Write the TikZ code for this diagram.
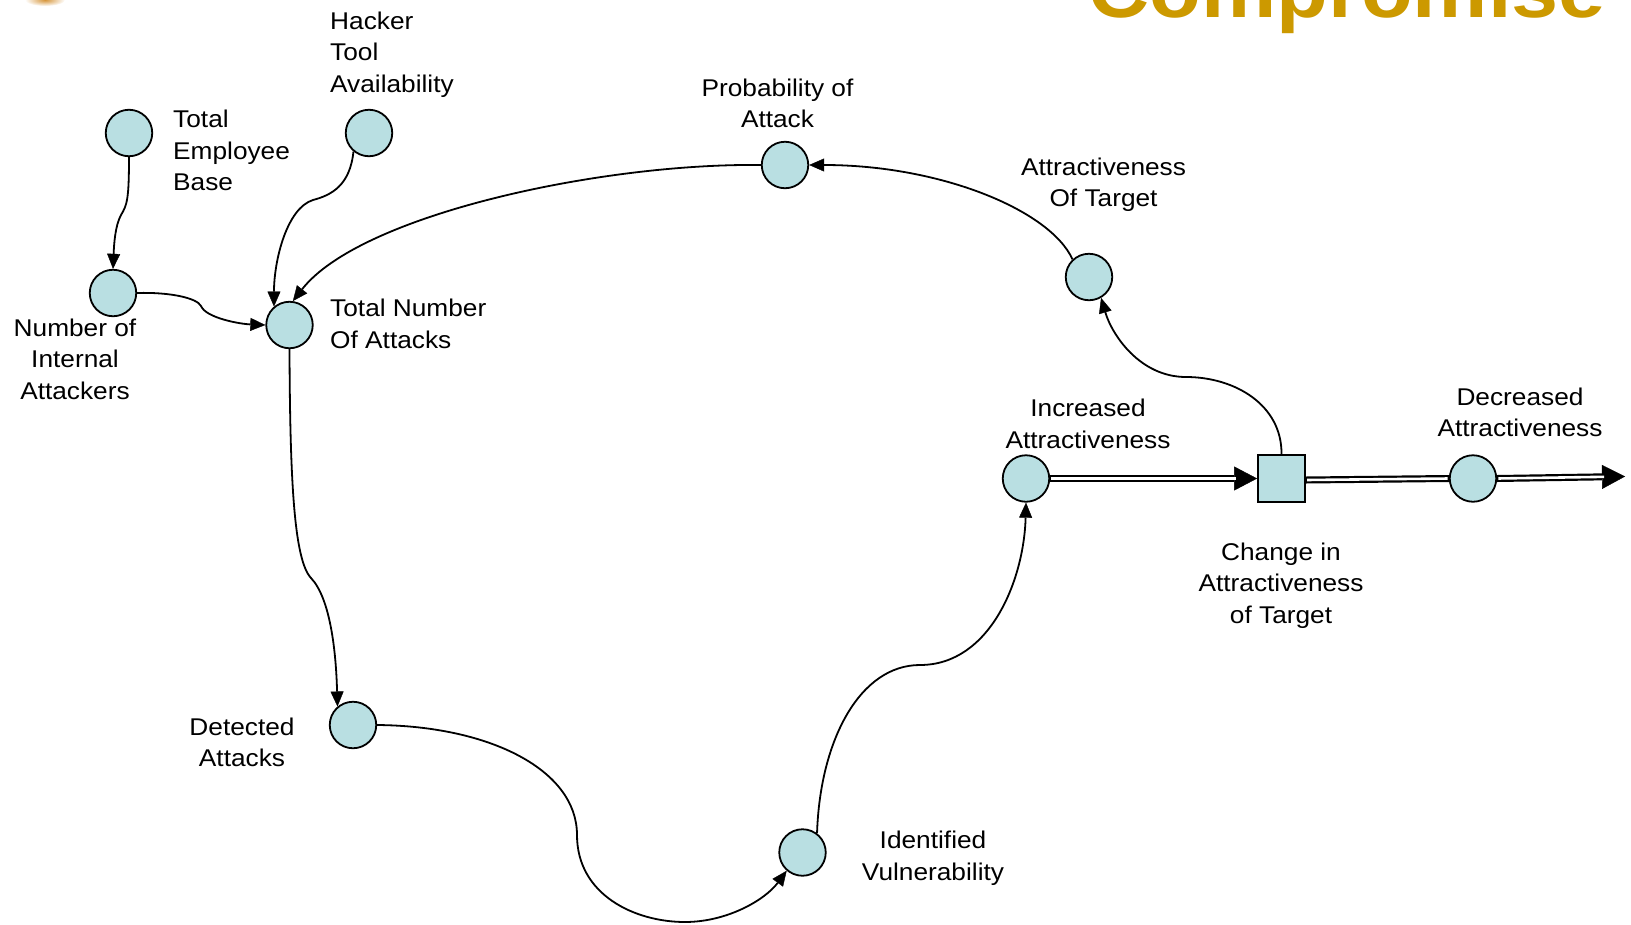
\documentclass[tikz,border=0pt]{standalone}
\usepackage{fontspec}
\setmainfont{Liberation Sans}[FakeStretch=1.085]
\usetikzlibrary{arrows.meta,calc}
\definecolor{stockfill}{RGB}{185,223,226}
\definecolor{titlegold}{RGB}{204,153,0}
\definecolor{logoorange}{RGB}{214,150,60}

\begin{document}
\begin{tikzpicture}[x=1pt,y=-1pt,
  var/.style={circle,draw,line width=1.8pt,fill=stockfill,minimum size=46.5pt,inner sep=0pt},
  ratebox/.style={rectangle,draw,line width=1.8pt,fill=stockfill,minimum size=47pt,inner sep=0pt},
  lbl/.style={inner sep=0pt,font=\fontsize{24.2}{31.7}\selectfont},
  lblc/.style={lbl,align=center,anchor=north},
  lbll/.style={lbl,align=left,anchor=north west},
  causal/.style={line width=1.8pt,-{Triangle[length=15pt,width=13pt,line width=0.4pt]}},
  pipe/.style={line width=7pt},
  pipecore/.style={white,line width=2.6pt},
  flowtip/.style={-{Triangle[length=23pt,width=24pt,line width=0.4pt]}}
]
\useasboundingbox (0,0) rectangle (1631,924);

% title (only its lower part lies on the page) and the corner logo
\node[anchor=base east,inner sep=0pt,text=titlegold,
      font=\fontsize{78}{80}\selectfont\bfseries] (title) at (1606,17) {Compromise};
\shade[inner color=logoorange,outer color=white] (45,0) ellipse [x radius=20, y radius=6];

% variables
\node[var] (teb) at (129,133) {};
\node[var] (hta) at (369,133) {};
\node[var] (nia) at (113,293) {};
\node[var] (tna) at (289.5,325) {};
\node[var] (poa) at (785,165) {};
\node[var] (aot) at (1089,277) {};
\node[var] (inc) at (1026,478.5) {};
\node[ratebox] (chg) at (1281.5,478.5) {};
\node[var] (dec) at (1473,478.5) {};
\node[var] (da)  at (353,725) {};
\node[var] (iv)  at (802.5,852.5) {};
\coordinate (sink) at (1625,476.5);

% labels
\node[lbll] (lteb) at (173,105.1) {\strut Total\\Employee\\Base};
\node[lbll] (lhta) at (330,6.8) {\strut Hacker\\Tool\\Availability};
\node[lbll] (ltna) at (330,294.5) {\strut Total Number\\Of Attacks};
\node[lblc] (lnia) at (75,313.8) {\strut Number of\\Internal\\Attackers};
\node[lblc] (lpoa) at (777.5,73.8) {\strut Probability of\\Attack};
\node[lblc] (laot) at (1103.5,152.8) {\strut Attractiveness\\Of Target};
\node[lblc] (linc) at (1088,394.3) {\strut Increased\\Attractiveness};
\node[lblc] (ldec) at (1520,382.8) {\strut Decreased\\Attractiveness};
\node[lblc] (lchg) at (1281,537.8) {\strut Change in\\Attractiveness\\of Target};
\node[lblc] (lda)  at (242,712.8) {\strut Detected\\Attacks};
\node[lblc] (liv)  at (933,826.1) {\strut Identified\\Vulnerability};

% causal links
\draw[causal] (teb.south) .. controls (129,200) and (127,205) .. (121,215)
              .. controls (115,226) and (114,245) .. (nia.north);
\draw[causal] (nia.east) .. controls (170,292) and (197,298) .. (201,306)
              .. controls (206,318) and (240,324) .. (tna.west);
\draw[causal] (hta.230) .. controls (350,185) and (332,195) .. (313,200)
              .. controls (287,208) and (274,260) .. (tna.130);
\draw[causal] (poa.west) .. controls (600,163) and (360,215) .. (tna.82);
\draw[causal] (aot.133) .. controls (1050,210) and (940,165) .. (poa.east);
\draw[causal] (chg.north) .. controls (1282,405) and (1235,377) .. (1186,377)
              .. controls (1140,377) and (1112,335) .. (aot.300);
\draw[causal] (tna.south) .. controls (290,480) and (294,560) .. (311,578)
              .. controls (330,598) and (336,650) .. (da.130);
\draw[causal] (da.east) .. controls (490,726) and (577,770) .. (577,835)
              .. controls (577,895) and (635,922) .. (685,922)
              .. controls (727,922) and (765,900) .. (iv.229);
\draw[causal] (iv.53) .. controls (820,740) and (860,665) .. (920,665)
              .. controls (990,665) and (1024,580) .. (inc.south);

% flow pipes
\draw[pipe,flowtip] (inc.east) -- (chg.west);
\draw[pipecore,shorten <=1.2pt,shorten >=21pt] (inc.east) -- (chg.west);
\draw[pipe] ($(chg.east)+(0,1.5)$) -- (dec.west);
\draw[pipecore,shorten <=1.2pt,shorten >=1.2pt] ($(chg.east)+(0,1.5)$) -- (dec.west);
\draw[pipe,flowtip] (dec.east) -- (sink);
\draw[pipecore,shorten <=1.2pt,shorten >=21pt] (dec.east) -- (sink);
\end{tikzpicture}
\end{document}
